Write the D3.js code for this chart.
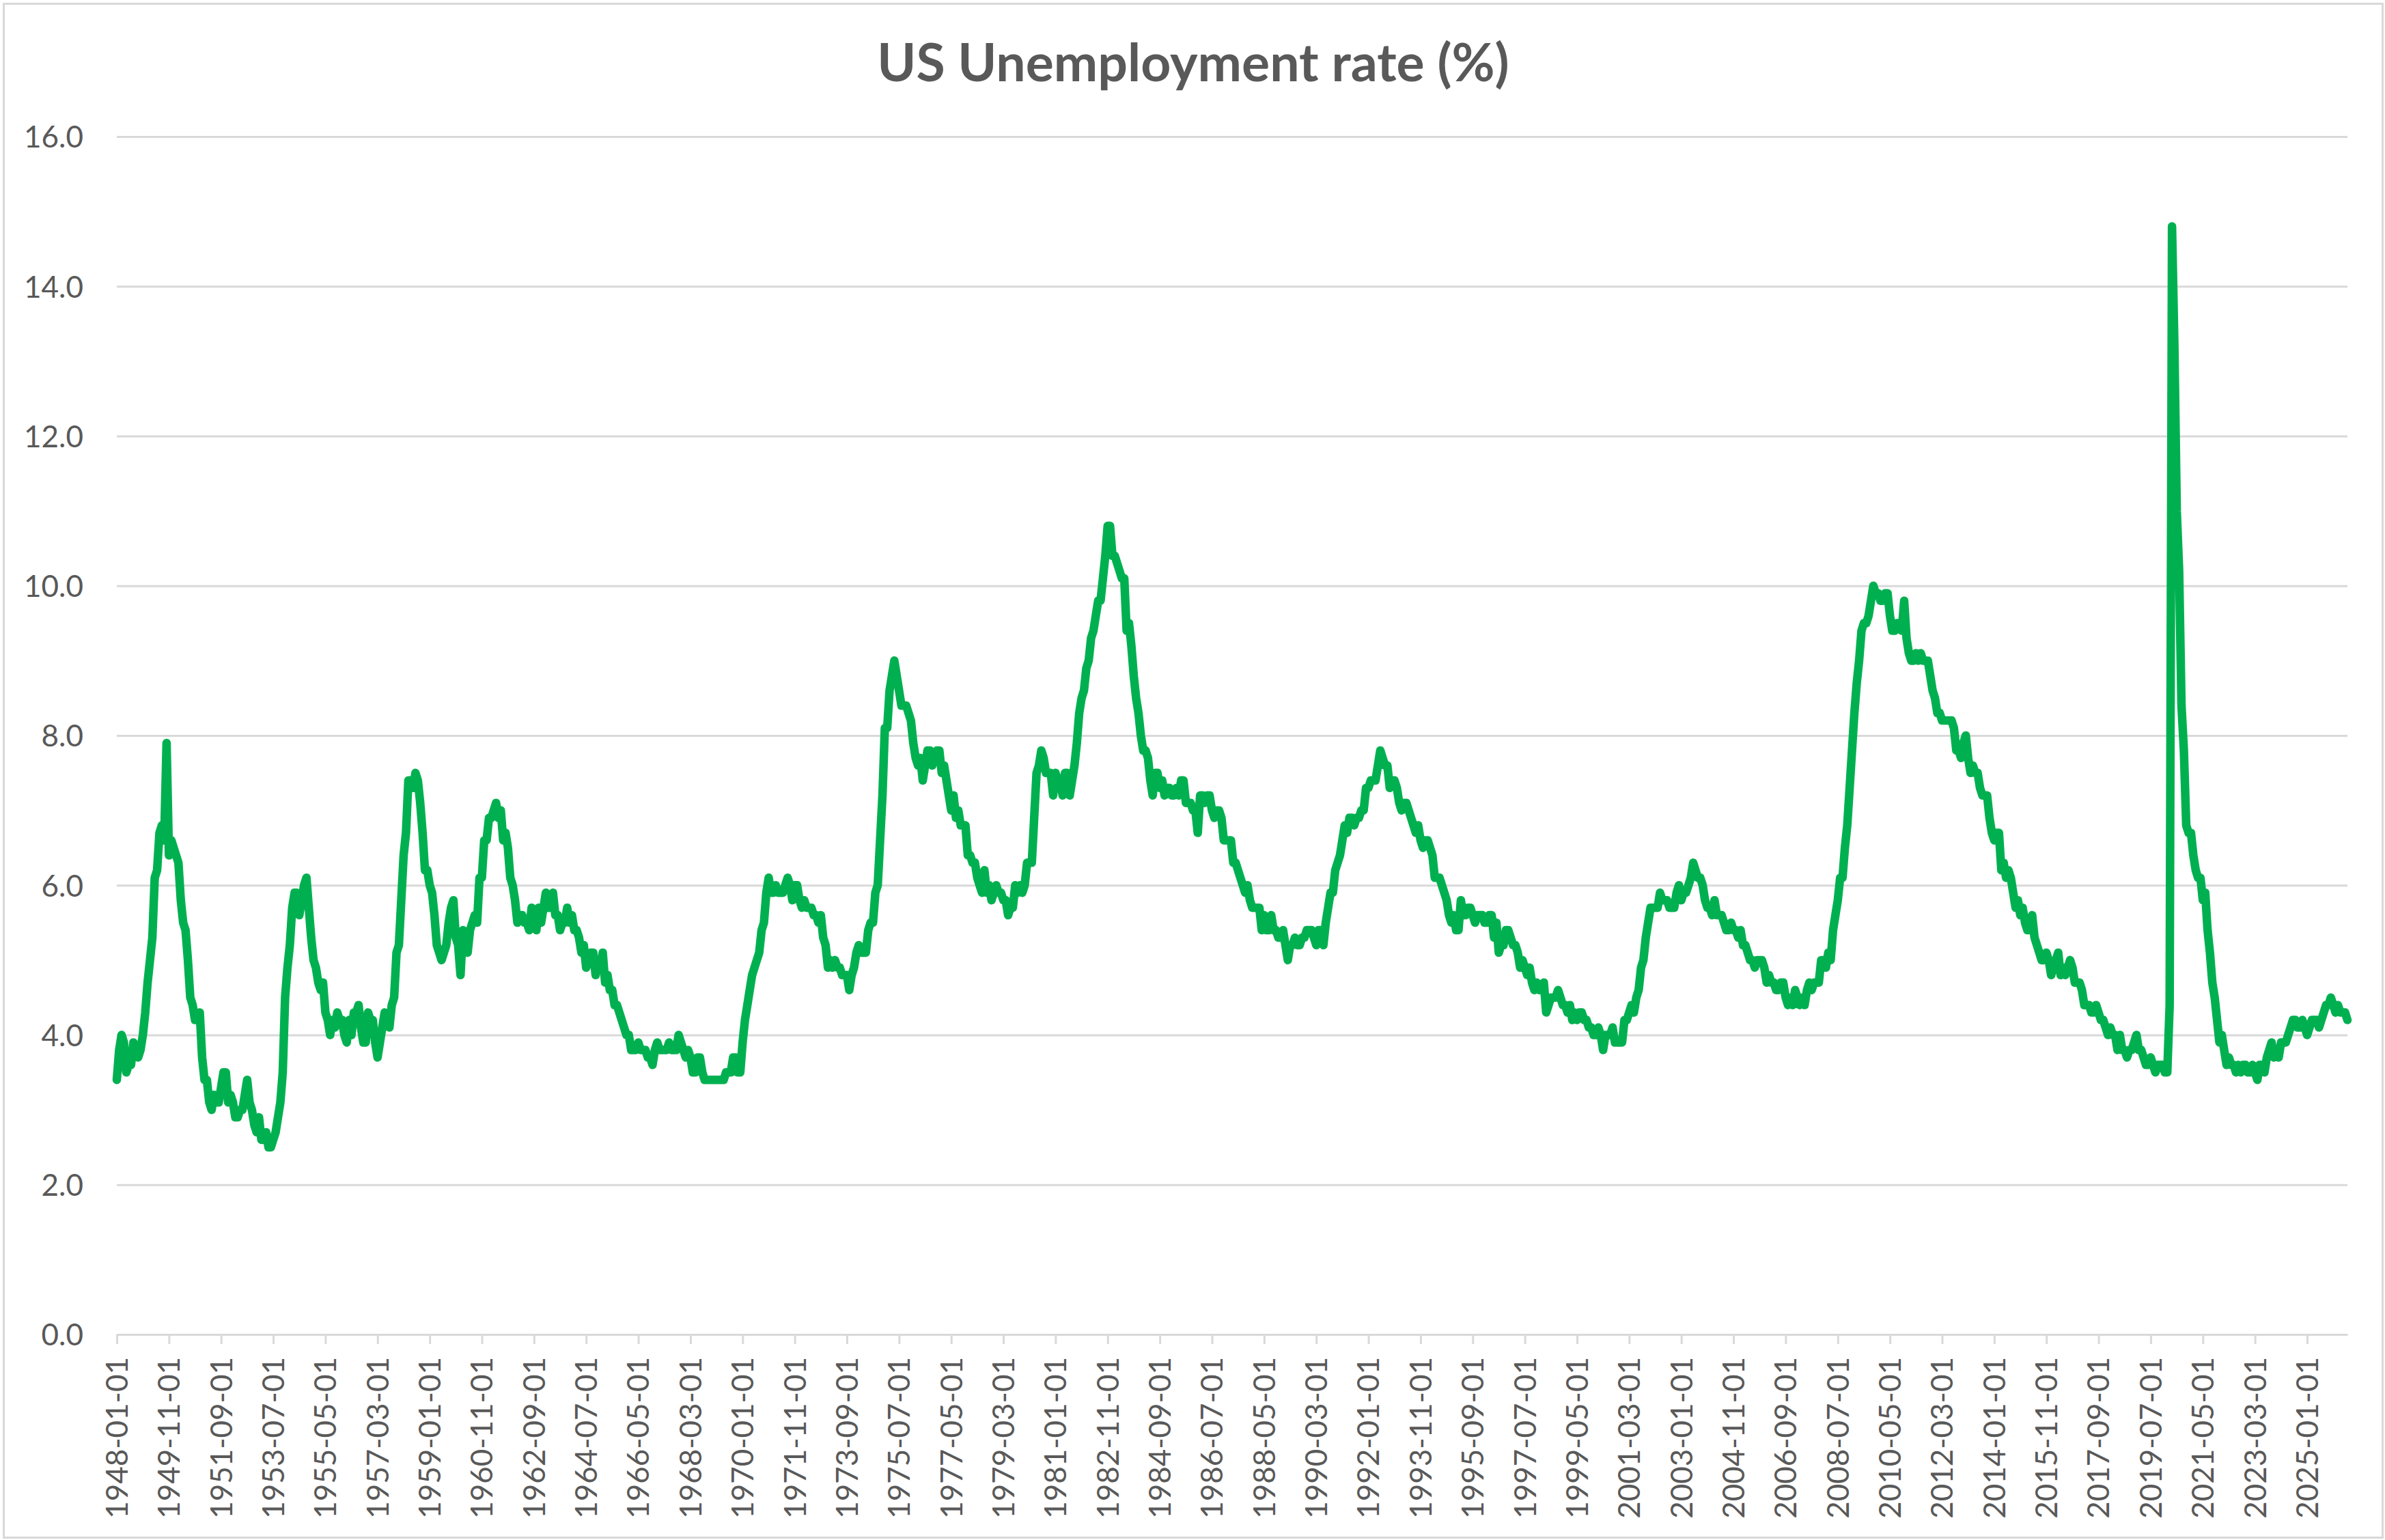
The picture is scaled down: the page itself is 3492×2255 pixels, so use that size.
<!DOCTYPE html>
<html>
<head>
<meta charset="utf-8">
<script src="https://cdn.jsdelivr.net/npm/d3@7"></script>
<style>
  body { margin: 0; background: #fff; }
  svg { display: block; font-family: Lato, "Open Sans", sans-serif; }
</style>
</head>
<body>
<div class="module"></div>
<script>

// monthly unemployment rate, one row per year, starting 1948-01
const rate = [
  3.4, 3.8, 4.0, 3.9, 3.5, 3.6, 3.6, 3.9, 3.8, 3.7, 3.8, 4.0,   // 1948
  4.3, 4.7, 5.0, 5.3, 6.1, 6.2, 6.7, 6.8, 6.6, 7.9, 6.4, 6.6,   // 1949
  6.5, 6.4, 6.3, 5.8, 5.5, 5.4, 5.0, 4.5, 4.4, 4.2, 4.2, 4.3,   // 1950
  3.7, 3.4, 3.4, 3.1, 3.0, 3.2, 3.1, 3.1, 3.3, 3.5, 3.5, 3.1,   // 1951
  3.2, 3.1, 2.9, 2.9, 3.0, 3.0, 3.2, 3.4, 3.1, 3.0, 2.8, 2.7,   // 1952
  2.9, 2.6, 2.6, 2.7, 2.5, 2.5, 2.6, 2.7, 2.9, 3.1, 3.5, 4.5,   // 1953
  4.9, 5.2, 5.7, 5.9, 5.9, 5.6, 5.8, 6.0, 6.1, 5.7, 5.3, 5.0,   // 1954
  4.9, 4.7, 4.6, 4.7, 4.3, 4.2, 4.0, 4.2, 4.1, 4.3, 4.2, 4.2,   // 1955
  4.0, 3.9, 4.2, 4.0, 4.3, 4.3, 4.4, 4.1, 3.9, 3.9, 4.3, 4.2,   // 1956
  4.2, 3.9, 3.7, 3.9, 4.1, 4.3, 4.2, 4.1, 4.4, 4.5, 5.1, 5.2,   // 1957
  5.8, 6.4, 6.7, 7.4, 7.4, 7.3, 7.5, 7.4, 7.1, 6.7, 6.2, 6.2,   // 1958
  6.0, 5.9, 5.6, 5.2, 5.1, 5.0, 5.1, 5.2, 5.5, 5.7, 5.8, 5.3,   // 1959
  5.2, 4.8, 5.4, 5.2, 5.1, 5.4, 5.5, 5.6, 5.5, 6.1, 6.1, 6.6,   // 1960
  6.6, 6.9, 6.9, 7.0, 7.1, 6.9, 7.0, 6.6, 6.7, 6.5, 6.1, 6.0,   // 1961
  5.8, 5.5, 5.6, 5.6, 5.5, 5.5, 5.4, 5.7, 5.6, 5.4, 5.7, 5.5,   // 1962
  5.7, 5.9, 5.7, 5.7, 5.9, 5.6, 5.6, 5.4, 5.5, 5.5, 5.7, 5.5,   // 1963
  5.6, 5.4, 5.4, 5.3, 5.1, 5.2, 4.9, 5.0, 5.1, 5.1, 4.8, 5.0,   // 1964
  4.9, 5.1, 4.7, 4.8, 4.6, 4.6, 4.4, 4.4, 4.3, 4.2, 4.1, 4.0,   // 1965
  4.0, 3.8, 3.8, 3.8, 3.9, 3.8, 3.8, 3.8, 3.7, 3.7, 3.6, 3.8,   // 1966
  3.9, 3.8, 3.8, 3.8, 3.8, 3.9, 3.8, 3.8, 3.8, 4.0, 3.9, 3.8,   // 1967
  3.7, 3.8, 3.7, 3.5, 3.5, 3.7, 3.7, 3.5, 3.4, 3.4, 3.4, 3.4,   // 1968
  3.4, 3.4, 3.4, 3.4, 3.4, 3.5, 3.5, 3.5, 3.7, 3.7, 3.5, 3.5,   // 1969
  3.9, 4.2, 4.4, 4.6, 4.8, 4.9, 5.0, 5.1, 5.4, 5.5, 5.9, 6.1,   // 1970
  5.9, 5.9, 6.0, 5.9, 5.9, 5.9, 6.0, 6.1, 6.0, 5.8, 6.0, 6.0,   // 1971
  5.8, 5.7, 5.8, 5.7, 5.7, 5.7, 5.6, 5.6, 5.5, 5.6, 5.3, 5.2,   // 1972
  4.9, 5.0, 4.9, 5.0, 4.9, 4.9, 4.8, 4.8, 4.8, 4.6, 4.8, 4.9,   // 1973
  5.1, 5.2, 5.1, 5.1, 5.1, 5.4, 5.5, 5.5, 5.9, 6.0, 6.6, 7.2,   // 1974
  8.1, 8.1, 8.6, 8.8, 9.0, 8.8, 8.6, 8.4, 8.4, 8.4, 8.3, 8.2,   // 1975
  7.9, 7.7, 7.6, 7.7, 7.4, 7.6, 7.8, 7.8, 7.6, 7.7, 7.8, 7.8,   // 1976
  7.5, 7.6, 7.4, 7.2, 7.0, 7.2, 6.9, 7.0, 6.8, 6.8, 6.8, 6.4,   // 1977
  6.4, 6.3, 6.3, 6.1, 6.0, 5.9, 6.2, 5.9, 6.0, 5.8, 5.9, 6.0,   // 1978
  5.9, 5.9, 5.8, 5.8, 5.6, 5.7, 5.7, 6.0, 5.9, 6.0, 5.9, 6.0,   // 1979
  6.3, 6.3, 6.3, 6.9, 7.5, 7.6, 7.8, 7.7, 7.5, 7.5, 7.5, 7.2,   // 1980
  7.5, 7.4, 7.4, 7.2, 7.5, 7.5, 7.2, 7.4, 7.6, 7.9, 8.3, 8.5,   // 1981
  8.6, 8.9, 9.0, 9.3, 9.4, 9.6, 9.8, 9.8, 10.1, 10.4, 10.8, 10.8, // 1982
  10.4, 10.4, 10.3, 10.2, 10.1, 10.1, 9.4, 9.5, 9.2, 8.8, 8.5, 8.3, // 1983
  8.0, 7.8, 7.8, 7.7, 7.4, 7.2, 7.5, 7.5, 7.3, 7.4, 7.2, 7.3,   // 1984
  7.3, 7.2, 7.2, 7.3, 7.2, 7.4, 7.4, 7.1, 7.1, 7.1, 7.0, 7.0,   // 1985
  6.7, 7.2, 7.2, 7.1, 7.2, 7.2, 7.0, 6.9, 7.0, 7.0, 6.9, 6.6,   // 1986
  6.6, 6.6, 6.6, 6.3, 6.3, 6.2, 6.1, 6.0, 5.9, 6.0, 5.8, 5.7,   // 1987
  5.7, 5.7, 5.7, 5.4, 5.6, 5.4, 5.4, 5.6, 5.4, 5.4, 5.3, 5.3,   // 1988
  5.4, 5.2, 5.0, 5.2, 5.2, 5.3, 5.2, 5.2, 5.3, 5.3, 5.4, 5.4,   // 1989
  5.4, 5.3, 5.2, 5.4, 5.4, 5.2, 5.5, 5.7, 5.9, 5.9, 6.2, 6.3,   // 1990
  6.4, 6.6, 6.8, 6.7, 6.9, 6.9, 6.8, 6.9, 6.9, 7.0, 7.0, 7.3,   // 1991
  7.3, 7.4, 7.4, 7.4, 7.6, 7.8, 7.7, 7.6, 7.6, 7.3, 7.4, 7.4,   // 1992
  7.3, 7.1, 7.0, 7.1, 7.1, 7.0, 6.9, 6.8, 6.7, 6.8, 6.6, 6.5,   // 1993
  6.6, 6.6, 6.5, 6.4, 6.1, 6.1, 6.1, 6.0, 5.9, 5.8, 5.6, 5.5,   // 1994
  5.6, 5.4, 5.4, 5.8, 5.6, 5.6, 5.7, 5.7, 5.6, 5.5, 5.6, 5.6,   // 1995
  5.6, 5.5, 5.5, 5.6, 5.6, 5.3, 5.5, 5.1, 5.2, 5.2, 5.4, 5.4,   // 1996
  5.3, 5.2, 5.2, 5.1, 4.9, 5.0, 4.9, 4.8, 4.9, 4.7, 4.6, 4.7,   // 1997
  4.6, 4.6, 4.7, 4.3, 4.4, 4.5, 4.5, 4.5, 4.6, 4.5, 4.4, 4.4,   // 1998
  4.3, 4.4, 4.2, 4.3, 4.2, 4.3, 4.3, 4.2, 4.2, 4.1, 4.1, 4.0,   // 1999
  4.0, 4.1, 4.0, 3.8, 4.0, 4.0, 4.0, 4.1, 3.9, 3.9, 3.9, 3.9,   // 2000
  4.2, 4.2, 4.3, 4.4, 4.3, 4.5, 4.6, 4.9, 5.0, 5.3, 5.5, 5.7,   // 2001
  5.7, 5.7, 5.7, 5.9, 5.8, 5.8, 5.8, 5.7, 5.7, 5.7, 5.9, 6.0,   // 2002
  5.8, 5.9, 5.9, 6.0, 6.1, 6.3, 6.2, 6.1, 6.1, 6.0, 5.8, 5.7,   // 2003
  5.7, 5.6, 5.8, 5.6, 5.6, 5.6, 5.5, 5.4, 5.4, 5.5, 5.4, 5.4,   // 2004
  5.3, 5.4, 5.2, 5.2, 5.1, 5.0, 5.0, 4.9, 5.0, 5.0, 5.0, 4.9,   // 2005
  4.7, 4.8, 4.7, 4.7, 4.6, 4.6, 4.7, 4.7, 4.5, 4.4, 4.5, 4.4,   // 2006
  4.6, 4.5, 4.4, 4.5, 4.4, 4.6, 4.7, 4.6, 4.7, 4.7, 4.7, 5.0,   // 2007
  5.0, 4.9, 5.1, 5.0, 5.4, 5.6, 5.8, 6.1, 6.1, 6.5, 6.8, 7.3,   // 2008
  7.8, 8.3, 8.7, 9.0, 9.4, 9.5, 9.5, 9.6, 9.8, 10.0, 9.9, 9.9,  // 2009
  9.8, 9.8, 9.9, 9.9, 9.6, 9.4, 9.4, 9.5, 9.5, 9.4, 9.8, 9.3,   // 2010
  9.1, 9.0, 9.0, 9.1, 9.0, 9.1, 9.0, 9.0, 9.0, 8.8, 8.6, 8.5,   // 2011
  8.3, 8.3, 8.2, 8.2, 8.2, 8.2, 8.2, 8.1, 7.8, 7.8, 7.7, 7.9,   // 2012
  8.0, 7.7, 7.5, 7.6, 7.5, 7.5, 7.3, 7.2, 7.2, 7.2, 6.9, 6.7,   // 2013
  6.6, 6.7, 6.7, 6.2, 6.3, 6.1, 6.2, 6.1, 5.9, 5.7, 5.8, 5.6,   // 2014
  5.7, 5.5, 5.4, 5.4, 5.6, 5.3, 5.2, 5.1, 5.0, 5.0, 5.1, 5.0,   // 2015
  4.8, 4.9, 5.0, 5.1, 4.8, 4.9, 4.8, 4.9, 5.0, 4.9, 4.7, 4.7,   // 2016
  4.7, 4.6, 4.4, 4.4, 4.4, 4.3, 4.3, 4.4, 4.3, 4.2, 4.2, 4.1,   // 2017
  4.0, 4.1, 4.0, 4.0, 3.8, 4.0, 3.8, 3.8, 3.7, 3.8, 3.8, 3.9,   // 2018
  4.0, 3.8, 3.8, 3.7, 3.6, 3.6, 3.7, 3.6, 3.5, 3.6, 3.6, 3.6,   // 2019
  3.5, 3.5, 4.4, 14.8, 13.2, 11.0, 10.2, 8.4, 7.8, 6.8, 6.7, 6.7, // 2020
  6.4, 6.2, 6.1, 6.1, 5.8, 5.9, 5.4, 5.1, 4.7, 4.5, 4.2, 3.9,   // 2021
  4.0, 3.8, 3.6, 3.7, 3.6, 3.6, 3.5, 3.6, 3.5, 3.6, 3.6, 3.5,   // 2022
  3.5, 3.6, 3.5, 3.4, 3.6, 3.6, 3.5, 3.7, 3.8, 3.9, 3.7, 3.8,   // 2023
  3.7, 3.9, 3.9, 3.9, 4.0, 4.1, 4.2, 4.2, 4.1, 4.1, 4.2, 4.1,   // 2024
  4.0, 4.1, 4.2, 4.2, 4.2, 4.1, 4.2, 4.3, 4.4, 4.4, 4.5, 4.4,   // 2025
  4.3, 4.4, 4.3, 4.3, 4.3, 4.2                                  // 2026
];

const tickLabels = [
  "1948-01-01","1949-11-01","1951-09-01","1953-07-01","1955-05-01","1957-03-01",
  "1959-01-01","1960-11-01","1962-09-01","1964-07-01","1966-05-01","1968-03-01",
  "1970-01-01","1971-11-01","1973-09-01","1975-07-01","1977-05-01","1979-03-01",
  "1981-01-01","1982-11-01","1984-09-01","1986-07-01","1988-05-01","1990-03-01",
  "1992-01-01","1993-11-01","1995-09-01","1997-07-01","1999-05-01","2001-03-01",
  "2003-01-01","2004-11-01","2006-09-01","2008-07-01","2010-05-01","2012-03-01",
  "2014-01-01","2015-11-01","2017-09-01","2019-07-01","2021-05-01","2023-03-01",
  "2025-01-01"
];

const yTicks = [0, 2, 4, 6, 8, 10, 12, 14, 16];

const title = "US Unemployment rate (%)";

// category labels, one per month
const dates = rate.map((d, i) => {
  const yr = 1948 + Math.floor(i / 12);
  const mo = String(i % 12 + 1).padStart(2, "0");
  return yr + "-" + mo + "-01";
});

const width = 3492, height = 2255;
const margin = {top: 200, right: 55, bottom: 301, left: 171};
const grey = "#595959", gridCol = "#D9D9D9";

const svg = d3.select(".module")
  .append("svg")
    .attr("width", width)
    .attr("height", height);

// chart area border
svg.append("rect")
    .attr("x", 5.5)
    .attr("y", 5.5)
    .attr("width", width - 9)
    .attr("height", height - 9)
    .attr("fill", "#fff")
    .attr("stroke", gridCol)
    .attr("stroke-width", 3);

svg.append("text")
    .attr("x", 1747)
    .attr("y", 119)
    .attr("text-anchor", "middle")
    .attr("font-size", 77)
    .attr("font-weight", "bold")
    .attr("fill", grey)
    .text(title);

const x = d3.scalePoint()
    .domain(dates)
    .range([margin.left, width - margin.right]);

const y = d3.scaleLinear()
    .domain([0, 16])
    .range([height - margin.bottom, margin.top]);

const plotW = width - margin.right - margin.left;

// y axis + gridlines
const yAxis = svg.append("g")
    .attr("transform", "translate(" + margin.left + ",0)")
    .call(d3.axisLeft(y)
      .tickValues(yTicks)
      .tickSize(-plotW)
      .tickPadding(49)
      .tickFormat(d3.format(".1f")));
yAxis.select(".domain").remove();
yAxis.selectAll("line")
    .attr("stroke", gridCol)
    .attr("stroke-width", 3);
yAxis.selectAll("text")
    .attr("fill", grey)
    .attr("font-size", 44)
    .attr("font-family", "Lato, sans-serif")
    .attr("dy", "0.36em");

// x axis
const xAxis = svg.append("g")
    .attr("transform", "translate(0," + y(0) + ")")
    .call(d3.axisBottom(x)
      .tickValues(tickLabels)
      .tickSize(14)
      .tickSizeOuter(0));
xAxis.select(".domain")
    .attr("stroke", gridCol)
    .attr("stroke-width", 3);
xAxis.selectAll("line")
    .attr("stroke", gridCol)
    .attr("stroke-width", 3);
xAxis.selectAll("text")
    .attr("fill", grey)
    .attr("font-size", 44)
    .attr("font-family", "Lato, sans-serif")
    .attr("transform", "rotate(-90)")
    .attr("x", -33)
    .attr("y", 0)
    .attr("dy", "0.35em")
    .attr("text-anchor", "end");

// the series
const line = d3.line()
    .x((d, i) => x(dates[i]))
    .y(d => y(d));

svg.append("path")
    .datum(rate)
    .attr("d", line)
    .attr("fill", "none")
    .attr("stroke", "#00B050")
    .attr("stroke-width", 12.5)
    .attr("stroke-linejoin", "round")
    .attr("stroke-linecap", "round");

</script>
</body>
</html>
